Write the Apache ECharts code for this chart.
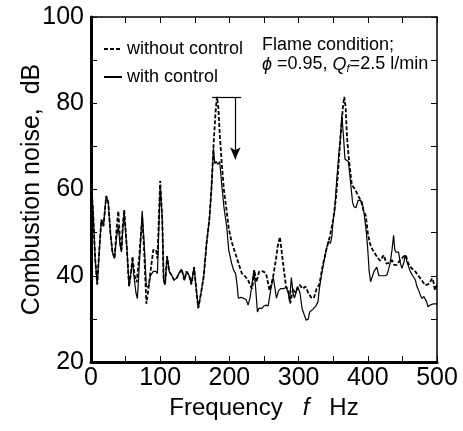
<!DOCTYPE html>
<html>
<head>
<meta charset="utf-8">
<script src="https://cdn.jsdelivr.net/npm/echarts@6/dist/echarts.min.js"></script>
<style>
  html, body { margin: 0; padding: 0; background: #fff; }
  #chart { width: 463px; height: 431px; }
</style>
</head>
<body>
<div id="chart"></div>
<script>
// frequency (Hz), noise (dB)
const withoutControl = [
  [0, 62], [3, 55], [6, 44], [9, 38], [12, 46], [15, 53], [18, 51.5], [22, 58.5], [25, 57], [28, 50],
  [31, 45.5], [34, 44], [37, 51], [39.5, 55], [42, 48], [44, 46], [46, 52], [48, 55.3], [50, 55], [52, 46],
  [55, 37.5], [58, 41], [60, 44.5], [63, 40], [66, 38.5], [70, 45], [74, 53.5], [77, 45], [80, 33.5], [83, 37],
  [86, 41], [90, 46], [94, 46], [96, 44], [100, 62], [103, 53], [105, 39], [107, 38], [110, 44.5], [113, 41],
  [117, 40], [120, 39], [124, 39.5], [127, 40.5], [131, 41.5], [135, 39], [138, 41], [142, 40], [145, 38], [149, 42],
  [152, 37], [155, 32.5], [159, 36], [163, 40], [167, 47.5], [171, 53], [174, 60], [177, 70], [180, 78], [182, 81.5],
  [184, 79], [186, 73], [189, 66], [192, 60], [196, 55], [199, 51], [203, 48], [207, 46], [211, 44], [214, 42.5],
  [218, 40.5], [222, 40], [227, 39], [231, 37.5], [233, 37], [236, 41.3], [239, 38.5], [243, 41], [249, 41], [253, 40.5],
  [258, 36.6], [263, 39.6], [267, 43.5], [270, 47], [273, 49], [276, 45], [279, 41], [282, 37.3], [285, 37], [288, 33.6],
  [292, 37], [296, 36], [299, 37.7], [302, 37.8], [306, 37], [310, 37.5], [314, 36], [318, 35], [322, 34.8], [326, 37],
  [330, 38], [335, 42.5], [340, 46], [345, 49], [350, 53], [354, 58], [357, 64], [360, 71], [362, 75], [364, 79],
  [366, 81.5], [368, 79], [370, 72], [373, 66.5], [377, 61], [382, 60], [386, 58.5], [390, 57.5], [394, 55], [397, 54],
  [400, 50], [403, 47.5], [407, 46], [411, 45], [415, 44], [418, 43.5], [423, 44.8], [427, 42.8], [431, 43], [435, 43.6],
  [438, 42.5], [442, 42.5], [446, 43.5], [449, 44], [452, 44.5], [455, 44.8], [458, 43], [462, 42], [465, 41.5], [469, 40.9],
  [473, 40], [476, 39.4], [480, 38.5], [483, 37.8], [487, 38], [490, 38.5], [493, 39.4], [495, 38.5], [497, 36.6], [500, 38]
];

const withControl = [
  [0, 62], [3, 55], [6, 44], [9, 38], [12, 46], [15, 53], [18, 51.5], [22, 58.5], [25, 57], [28, 50],
  [31, 45.5], [34, 44], [37, 49], [39.5, 51.5], [42, 47], [44, 45.5], [46, 51], [48, 54.5], [50, 54.5], [52, 46],
  [55, 37.5], [58, 41], [60, 43.5], [62, 40], [65, 36], [67, 34.7], [70, 43], [74, 55], [77, 47], [80, 37.5],
  [83, 37.5], [86, 40], [90, 41], [94, 41], [96, 40.5], [100, 61], [103, 53], [105, 39], [107, 38], [110, 44.5],
  [113, 41], [117, 40], [120, 39], [124, 39.5], [127, 40.5], [131, 41.5], [135, 39], [138, 41], [142, 40], [145, 38],
  [149, 42], [152, 37], [155, 32.5], [159, 36], [163, 40], [167, 47.5], [171, 53], [174, 60], [177, 69.5], [179, 66],
  [181, 66.5], [183, 65.8], [186, 66.5], [189, 61], [192, 56], [196, 51.5], [199, 46], [203, 43], [206, 41.3], [209, 40.5],
  [211, 38], [213, 34.8], [217, 35], [220, 34.8], [224, 34.5], [227, 33.2], [230, 35], [232, 37.4], [235.5, 41.3], [238, 37],
  [240.5, 31.6], [243, 32.5], [246.5, 32.4], [250, 33], [253, 33.2], [256, 33], [259.6, 36.6], [263.4, 39.6], [266, 37], [268, 34.8],
  [271, 36.5], [274, 37], [278, 37], [282, 37.3], [285, 36], [287, 34], [289.5, 39.6], [292, 36], [294, 34.8], [297, 36.5],
  [299, 37.4], [302, 36], [305, 32.4], [308, 31], [311, 29.7], [314, 30], [316, 31.6], [320.5, 32.2], [325, 33], [328, 34],
  [330, 37], [335, 42], [340, 46], [343, 48], [346, 47.5], [348, 49], [350, 53], [352, 55], [355, 62], [358, 68],
  [360, 71], [362.5, 77.3], [365, 72], [367, 67], [369, 66.8], [372, 66.5], [375, 61.8], [378, 57], [380, 56], [383, 55.8],
  [386, 57.5], [389, 57.5], [392, 57], [395, 54], [398, 50], [400, 46], [402, 41], [404, 38.6], [406, 39], [409, 41],
  [413, 42], [416, 40], [418, 40], [422, 40], [425, 40], [428, 40.3], [430, 40.3], [432, 42.7], [435, 46], [437.3, 49.4],
  [439, 46], [440.7, 45.5], [444.5, 45.5], [447, 43], [449.3, 41.7], [452, 43], [454, 44.8], [457, 43], [461.6, 40.9], [465, 40],
  [468.8, 39], [471, 37.5], [473.6, 36.6], [476, 35.5], [478.4, 34.7], [481, 35.2], [483, 35], [485, 34], [487, 32.8], [490, 33.2],
  [492, 33.6], [495, 33.5], [497, 33.2], [500, 33.5]
];

// reduction arrow near the first peak
const arrowBar = [[175, 81.3], [217, 81.3]];
const arrowDown = [[208.5, 81.3], [208.5, 67]];

const font = 'Liberation Sans';

const chart = echarts.init(document.getElementById('chart'));

const xBase = {
  type: 'value', min: 0, max: 500, interval: 100,
  splitLine: { show: false },
  axisTick: { inside: true, length: 6, lineStyle: { color: '#000', width: 1 } },
  minorTick: { show: true, splitNumber: 2, length: 6, lineStyle: { color: '#000', width: 1 } }
};
const yBase = {
  type: 'value', min: 20, max: 100, interval: 20,
  splitLine: { show: false },
  axisTick: { inside: true, length: 6, lineStyle: { color: '#000', width: 1 } },
  minorTick: { show: true, splitNumber: 2, length: 6, lineStyle: { color: '#000', width: 1 } }
};

chart.setOption({
  animation: false,
  textStyle: { fontFamily: font, color: '#000' },
  grid: { left: 91, right: 26, top: 17, bottom: 69 },
  legend: {
    orient: 'vertical',
    left: 98, top: 35,
    itemWidth: 18, itemHeight: 10, itemGap: 10,
    itemStyle: { opacity: 0 },
    textStyle: { fontFamily: font, fontSize: 18, color: '#000' },
    data: ['without control', 'with control']
  },
  xAxis: [
    Object.assign({}, xBase, {
      position: 'bottom',
      axisLine: { lineStyle: { color: '#000', width: 3 } },
      axisLabel: { fontFamily: font, fontSize: 25, color: '#000', margin: 4 },
      name: 'Frequency   {i|f}   Hz',
      nameLocation: 'middle',
      nameGap: 34,
      nameTextStyle: {
        fontFamily: font, fontSize: 24, color: '#000',
        rich: { i: { fontFamily: font, fontSize: 24, fontStyle: 'italic', color: '#000' } }
      }
    }),
    Object.assign({}, xBase, {
      position: 'top',
      axisLine: { onZero: false, lineStyle: { color: '#000', width: 1.5 } },
      axisLabel: { show: false }
    })
  ],
  yAxis: [
    Object.assign({}, yBase, {
      position: 'left',
      axisLine: { lineStyle: { color: '#000', width: 3 } },
      axisLabel: { fontFamily: font, fontSize: 25, color: '#000', margin: 7 },
      name: 'Combustion noise,  dB',
      nameLocation: 'middle',
      nameGap: 46,
      nameMoveOverlap: false,
      nameTextStyle: { fontFamily: font, fontSize: 25, color: '#000' }
    }),
    Object.assign({}, yBase, {
      position: 'right',
      axisLine: { show: true, onZero: false, lineStyle: { color: '#000', width: 1.5 } },
      axisLabel: { show: false }
    })
  ],
  graphic: [{
    type: 'text',
    left: 262, top: 36,
    style: {
      text: 'Flame condition;\n{i|ϕ} =0.95, {i|Q}{s|f}=2.5 l/min',
      fontFamily: font, fontSize: 18, fill: '#000', lineHeight: 19,
      rich: {
        i: { fontFamily: font, fontSize: 18, fontStyle: 'italic', fill: '#000' },
        s: { fontFamily: font, fontSize: 11, fontStyle: 'italic', fill: '#000', padding: [8, 0, 0, 0] }
      }
    }
  }],
  series: [
    {
      name: 'without control',
      type: 'line',
      data: withoutControl,
      symbol: 'none',
      lineStyle: { color: '#000', width: 1.8, type: [4, 2] },
      itemStyle: { color: '#000' }
    },
    {
      name: 'with control',
      type: 'line',
      data: withControl,
      symbol: 'none',
      lineStyle: { color: '#000', width: 1.2, type: 'solid' },
      itemStyle: { color: '#000' },
      markLine: {
        silent: true,
        symbol: ['none', 'none'],
        label: { show: false },
        lineStyle: { color: '#000', width: 1.2, type: 'solid' },
        data: [
          [{ coord: arrowBar[0] }, { coord: arrowBar[1] }],
          [{ coord: arrowDown[0], symbol: 'none' }, { coord: arrowDown[1], symbol: 'arrow', symbolSize: [8, 12] }]
        ]
      }
    }
  ]
});
</script>
</body>
</html>
